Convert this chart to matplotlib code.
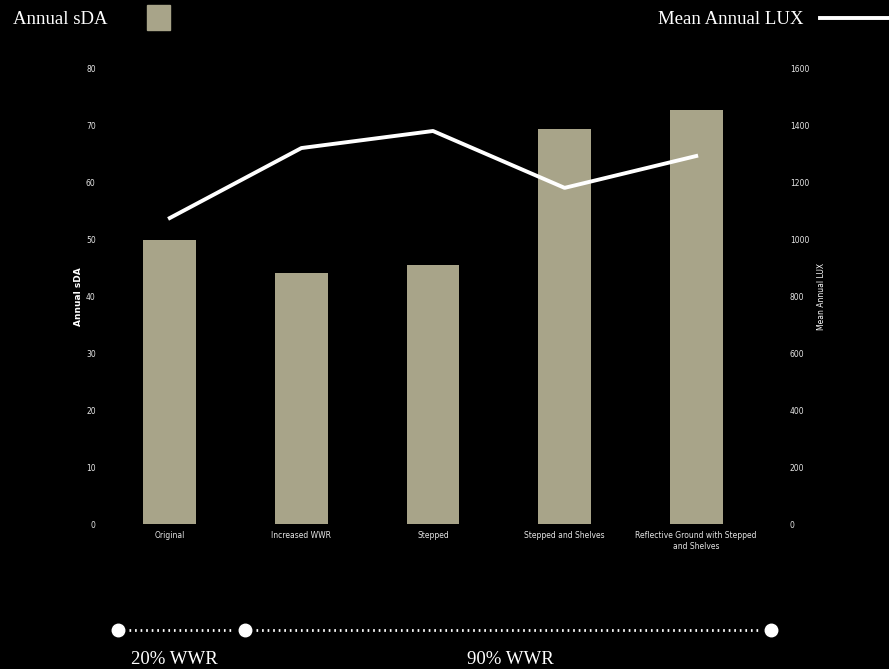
import numpy as np
import matplotlib.pyplot as plt
from matplotlib.patches import Rectangle

# datos
categories = ["Original", "Increased WWR", "Stepped", "Stepped and Shelves",
              "Reflective Ground with Stepped\nand Shelves"]
sda = [50, 44.2, 45.5, 69.4, 72.8]
lux = [1076, 1322, 1382, 1182, 1294]
sda_ticks = [0, 10, 20, 30, 40, 50, 60, 70, 80]
lux_ticks = [0, 200, 400, 600, 800, 1000, 1200, 1400, 1600]
wwr_labels = ["20% WWR", "90% WWR"]

BAR = "#a8a489"
SERIF = "Liberation Serif"

fig = plt.figure(figsize=(8.89, 6.69), dpi=100, facecolor="black")
W, H = 889, 669
ax = fig.add_axes([104 / W, 1 - 524 / H, (762 - 104) / W, (524 - 69) / H])
ax.set_facecolor("black")
x = np.arange(len(categories))
ax.bar(x, sda, width=0.4, color=BAR, zorder=2)
ax.set_xlim(-0.5, len(categories) - 0.5)
ax.set_ylim(0, 80)
ax.set_yticks(sda_ticks)
ax.set_xticks(x)
ax.set_xticklabels(categories, fontsize=5.5, color="white", linespacing=1.3)
ax.tick_params(axis="both", length=0, colors="#e6e6e6", labelsize=5.5)
ax.tick_params(axis="y", pad=6)
ax.tick_params(axis="x", pad=5)
for s in ax.spines.values():
    s.set_visible(False)
ax.set_ylabel("Annual sDA", color="white", fontsize=6.5, fontweight="bold", labelpad=2)

ax2 = ax.twinx()
ax2.plot(x, lux, color="white", lw=2.8, zorder=3)
ax2.set_ylim(0, 1600)
ax2.set_yticks(lux_ticks)
ax2.tick_params(axis="y", length=0, colors="#e6e6e6", labelsize=5.5, pad=20)
for lab in ax2.get_yticklabels():
    lab.set_horizontalalignment("left")
for s in ax2.spines.values():
    s.set_visible(False)
ax2.set_ylabel("Mean Annual LUX", color="white", fontsize=5.5, labelpad=6)

# leyenda superior
fig.text(13 / W, 1 - 19 / H, "Annual sDA", color="white", fontsize=13.5,
         family=SERIF, va="center", ha="left")
fig.patches.append(Rectangle((147 / W, 1 - 30 / H), 23 / W, 25 / H,
                             transform=fig.transFigure, color=BAR))
fig.text(803 / W, 1 - 19 / H, "Mean Annual LUX", color="white", fontsize=13.5,
         family=SERIF, va="center", ha="right")
fig.lines.append(plt.Line2D([820 / W, 1.0], [1 - 18 / H, 1 - 18 / H],
                            transform=fig.transFigure, color="white", lw=2.8))

# linea de tiempo WWR
yl = 1 - 630 / H
dots_x = [118 / W, 245 / W, 771 / W]
fig.lines.append(plt.Line2D([dots_x[0] + 0.012, dots_x[1] - 0.012], [yl, yl],
                            transform=fig.transFigure, color="white", lw=2,
                            ls=(0, (0.6, 1.4))))
fig.lines.append(plt.Line2D([dots_x[1] + 0.012, dots_x[2] - 0.012], [yl, yl],
                            transform=fig.transFigure, color="white", lw=2,
                            ls=(0, (0.6, 1.4))))
fig.lines.append(plt.Line2D(dots_x, [yl] * 3, transform=fig.transFigure,
                            ls="none", marker="o", ms=9, color="white"))
fig.text(174 / W, 1 - 659 / H, wwr_labels[0], color="white", fontsize=13.5,
         family=SERIF, ha="center", va="center")
fig.text(510 / W, 1 - 659 / H, wwr_labels[1], color="white", fontsize=13.5,
         family=SERIF, ha="center", va="center")

fig.savefig("out.png", dpi=100, facecolor="black")
